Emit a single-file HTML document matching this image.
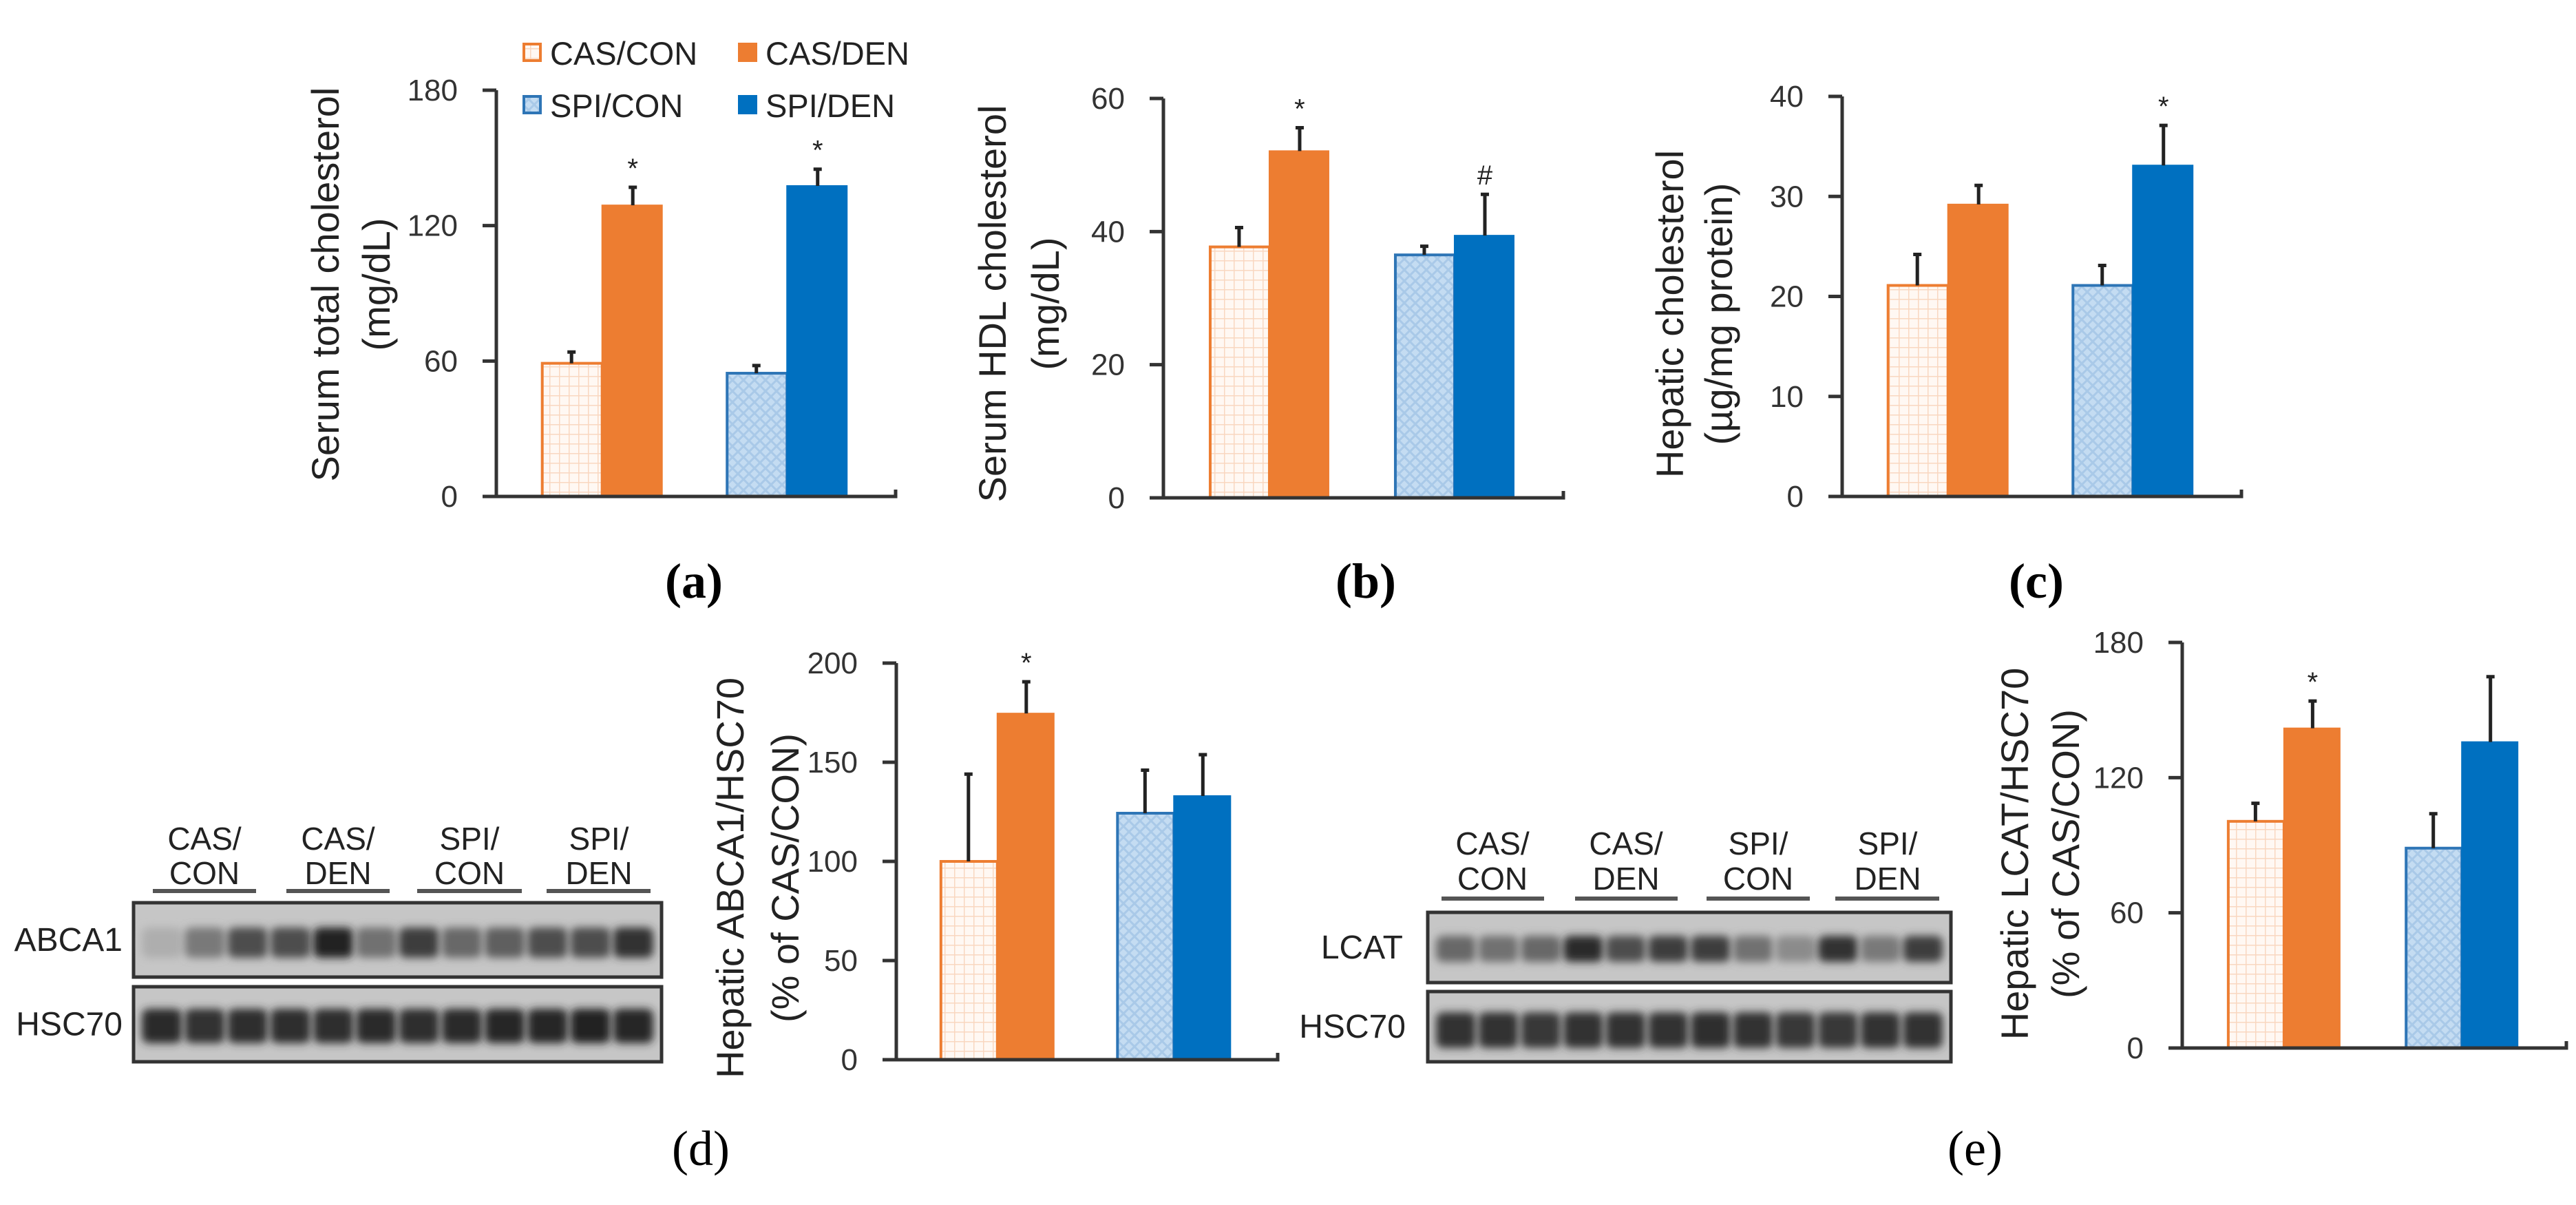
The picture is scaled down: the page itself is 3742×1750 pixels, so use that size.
<!DOCTYPE html>
<html><head><meta charset="utf-8"><style>
html,body{margin:0;padding:0;background:#fff;}
svg text{font-family:"Liberation Sans",sans-serif;}
</style></head><body>
<svg id="fig" xmlns="http://www.w3.org/2000/svg" width="3742" height="1745" viewBox="0 0 3742 1745">
<defs>
<pattern id="pOrange" width="14" height="14" patternUnits="userSpaceOnUse">
<rect width="14" height="14" fill="#fff8f3"/>
<path d="M0 0H14M0 0V14" stroke="#f9d7c0" stroke-width="3"/>
</pattern>
<pattern id="pBlue" width="16" height="16" patternUnits="userSpaceOnUse">
<rect width="16" height="16" fill="#c4dcf2"/>
<path d="M0 0L16 16M16 0L0 16" stroke="#a9c9e8" stroke-width="3"/>
</pattern>
<filter id="blur" x="-30%" y="-60%" width="160%" height="220%"><feGaussianBlur stdDeviation="6"/></filter>
</defs>
<g id="root"></g>
</svg>
<script>
// ---- data ----
var groups = ["CAS/CON","CAS/DEN","SPI/CON","SPI/DEN"];
var aValues = [59, 129, 54.6, 137.6];
var aErrors = [5, 8, 3.4, 7.4];
var aTicks = [0, 60, 120, 180];
var bValues = [37.7, 52.1, 36.5, 39.4];
var bErrors = [2.9, 3.5, 1.3, 6.2];
var bTicks = [0, 20, 40, 60];
var cValues = [21.1, 29.2, 21.1, 33.1];
var cErrors = [3.1, 1.9, 2.0, 4.0];
var cTicks = [0, 10, 20, 30, 40];
var dValues = [100, 174.6, 124.3, 133];
var dErrors = [44, 16, 21.7, 20.8];
var dTicks = [0, 50, 100, 150, 200];
var eValues = [100.6, 141.9, 88.7, 135.8];
var eErrors = [8, 12.1, 15.3, 29];
var eTicks = [0, 60, 120, 180];
var abcaBands = [0.15, 0.45, 0.7, 0.7, 0.95, 0.5, 0.8, 0.55, 0.6, 0.7, 0.7, 0.85];
var hscBandsD = [0.9, 0.85, 0.88, 0.88, 0.88, 0.9, 0.88, 0.9, 0.92, 0.92, 0.95, 0.92];
var lcatBands = [0.55, 0.5, 0.55, 0.9, 0.7, 0.8, 0.8, 0.5, 0.35, 0.85, 0.45, 0.8];
var hscBandsE = [0.85, 0.85, 0.82, 0.85, 0.85, 0.85, 0.88, 0.85, 0.82, 0.82, 0.85, 0.85];

var NS = "http://www.w3.org/2000/svg";
var root = document.getElementById('root');
function mk(tag, attrs, parent, txt){
  var e = document.createElementNS(NS, tag);
  for (var k in attrs) e.setAttribute(k, attrs[k]);
  if (txt !== undefined) e.textContent = txt;
  (parent || root).appendChild(e);
  return e;
}
var fills = ["url(#pOrange)", "#ED7D31", "url(#pBlue)", "#0070C0"];
var strokes = ["#ED7D31", "#ED7D31", "#2E75B6", "#0070C0"];

function chart(id, L, values, errors, ticks, marks, titles){
  var g = mk('g', {});
  
  
  var max = ticks[ticks.length-1];
  function y(v){ return L.y0 - (L.y0 - L.yTop) * v / max; }
  var W = L.xEnd - L.x0;
  function xc(i){ var grp = Math.floor(i/2); var c = L.x0 + W*(0.265 + grp*0.463); return (i%2===0) ? c - L.bw : c; }
  for (var i = 0; i < values.length; i++){
    var top = y(values[i]);
    var r = mk('rect', {x: xc(i)+ (i%2===0?2:0), y: top, width: L.bw - 2, height: L.y0 - top, fill: fills[i], stroke: strokes[i], 'stroke-width': (i%2===0?4:2)}, g);
    
    
    var cx = xc(i) + L.bw/2, et = y(values[i] + errors[i]);
    var eb = mk('path', {d: 'M'+cx+' '+top+'V'+et+'M'+(cx-6)+' '+et+'H'+(cx+6), stroke: '#222', 'stroke-width': 5, fill: 'none'}, g);
    
    
    if (marks[i]){
      var m = mk('text', {x: cx, y: et - 14, 'font-size': 40, 'text-anchor': 'middle', fill: '#222'}, g, marks[i]);
      
      
    }
  }
  var ax = mk('path', {d: 'M'+L.x0+' '+L.yTop+'V'+L.y0+'H'+L.xEnd+'v-10', stroke: '#333', 'stroke-width': 5, fill: 'none'}, g);
  
  
  for (var t = 0; t < ticks.length; t++){
    var ty = y(ticks[t]);
    var tk = mk('path', {d: 'M'+(L.x0-20)+' '+ty+'H'+L.x0, stroke: '#333', 'stroke-width': 5}, g);
    
    
    var tl = mk('text', {x: L.x0 - 56, y: ty + 15, 'font-size': 44, 'text-anchor': 'end', fill: '#333'}, g, String(ticks[t]));
    
    
  }
  for (var k = 0; k < titles.length; k++){
    var tt = mk('text', {x: 0, y: 0, 'font-size': 56, 'text-anchor': 'middle', fill: '#222', transform: 'translate(' + (L.tx[k] + 20) + ',' + L.ty + ') rotate(-90)'}, g, titles[k]);
    
    
  }
}

chart('chart-a', {x0: 721, xEnd: 1301, yTop: 131, y0: 721, bw: 89, tx: [472, 546], ty: 413}, aValues, aErrors, aTicks, ['', '*', '', '*'], ['Serum total cholesterol', '(mg/dL)']);
chart('chart-b', {x0: 1690, xEnd: 2271, yTop: 143, y0: 723, bw: 88, tx: [1441, 1518], ty: 441}, bValues, bErrors, bTicks, ['', '*', '', '#'], ['Serum HDL cholesterol', '(mg/dL)']);
chart('chart-c', {x0: 2676, xEnd: 3256, yTop: 140, y0: 721, bw: 89, tx: [2425, 2496], ty: 456}, cValues, cErrors, cTicks, ['', '', '', '*'], ['Hepatic cholesterol', '(µg/mg protein)']);
chart('chart-d', {x0: 1302, xEnd: 1856, yTop: 963, y0: 1539, bw: 84, tx: [1060, 1140], ty: 1275}, dValues, dErrors, dTicks, ['', '*', '', ''], ['Hepatic ABCA1/HSC70', '(% of CAS/CON)']);
chart('chart-e', {x0: 3170, xEnd: 3728, yTop: 933, y0: 1522, bw: 83, tx: [2926, 3000], ty: 1240}, eValues, eErrors, eTicks, ['', '*', '', ''], ['Hepatic LCAT/HSC70', '(% of CAS/CON)']);

// legend
var leg = mk('g', {});


var lx = [761, 1074, 761, 1074], ly = [64, 64, 140, 140];
for (var i = 0; i < groups.length; i++){
  var sw = mk('rect', {x: lx[i], y: ly[i], width: 24, height: 24, fill: fills[i], stroke: strokes[i], 'stroke-width': 4}, leg);
  
  
  var lt = mk('text', {x: lx[i] + 38, y: ly[i] + 30, 'font-size': 47, fill: '#222'}, leg, groups[i]);
  
  
}

// panel labels
var pl = [['(a)', 1008, 868, true], ['(b)', 1984, 868, true], ['(c)', 2958, 868, true], ['(d)', 1018, 1692, false], ['(e)', 2869, 1692, false]];
for (var p = 0; p < pl.length; p++){
  var t = mk('text', {x: pl[p][1], y: pl[p][2], 'font-size': 72, 'text-anchor': 'middle', fill: '#000', 'font-weight': pl[p][3] ? 'bold' : 'normal', style: 'font-family:"Liberation Serif",serif'}, root, pl[p][0]);
  
  
}

// blots
function blot(name, x, y, w, h, bands, bandY, bandH, label, labelX){
  var g = mk('g', {});
  
  
  mk('rect', {x: x, y: y, width: w, height: h, fill: '#c6c6c6', stroke: '#333', 'stroke-width': 5}, g);
  var lw = (w - 20) / bands.length;
  for (var i = 0; i < bands.length; i++){
    var v = Math.round(200 - 175 * bands[i]);
    var b = mk('rect', {x: x + 10 + i*lw + 2, y: y + bandY, width: lw - 4, height: bandH, rx: 10, fill: 'rgb(' + v + ',' + v + ',' + v + ')', filter: 'url(#blur)'}, g);
    
    
  }
  var t = mk('text', {x: labelX, y: y + h/2 + 16, 'font-size': 48, 'text-anchor': 'end', fill: '#222'}, g, label);
  
  
}
blot('blot-abca1', 194, 1311, 767, 108, abcaBands, 36, 44, 'ABCA1', 178);
blot('blot-hsc70-d', 194, 1433, 767, 109, hscBandsD, 32, 50, 'HSC70', 178);
blot('blot-lcat', 2074, 1325, 760, 102, lcatBands, 34, 38, 'LCAT', 2038);
blot('blot-hsc70-e', 2074, 1440, 760, 102, hscBandsE, 30, 52, 'HSC70', 2042);

function laneLabels(name, cxs, y1, y2, ux, uy){
  for (var i = 0; i < groups.length; i++){
    var parts = groups[i].split('/');
    var g = mk('g', {});
    
    
    mk('text', {x: cxs[i], y: y1, 'font-size': 46, 'text-anchor': 'middle', fill: '#222'}, g, parts[0] + '/');
    mk('text', {x: cxs[i], y: y2, 'font-size': 46, 'text-anchor': 'middle', fill: '#222'}, g, parts[1]);
    mk('rect', {x: ux[i][0], y: uy, width: ux[i][1] - ux[i][0], height: 6, fill: '#555'}, g);
  }
}
laneLabels('lane-group-label-d', [297, 491, 682, 870], 1234, 1284, [[222,372],[416,566],[606,758],[794,945]], 1291);
laneLabels('lane-group-label-e', [2168, 2362, 2554, 2742], 1241, 1292, [[2094,2243],[2288,2437],[2479,2629],[2666,2817]], 1302);
</script>
</body></html>
